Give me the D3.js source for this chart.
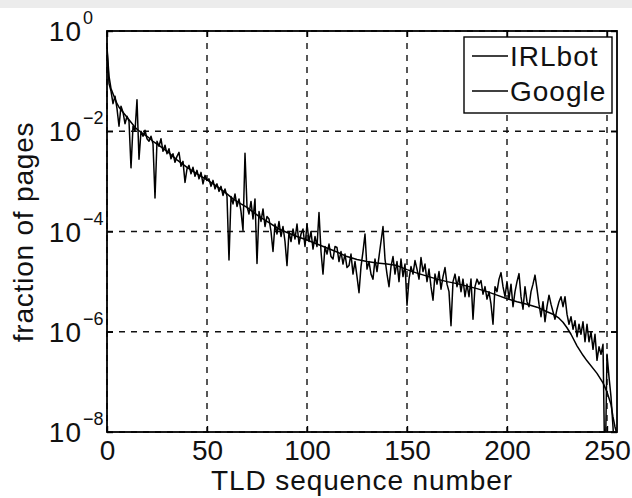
<!DOCTYPE html>
<html><head><meta charset="utf-8">
<script src="https://cdn.jsdelivr.net/npm/d3@7"></script>
<style>
html,body{margin:0;padding:0;background:#fff;}
svg{display:block;font-family:"Liberation Sans",Arial,Helvetica,sans-serif;}
</style></head>
<body><svg id="c" width="632" height="498"></svg>
<script>
// ---- data (log10 of fraction of pages) ----
const xTicks = [0, 50, 100, 150, 200, 250];
const yTickExps = [0, -2, -4, -6, -8];
const seriesNames = ["IRLbot", "Google"];

const irlbotRank = [0,1,2,3,4,5,6,8,10,12,14,15,17,20,23,26,30,35,40,45,50,55,60,63,67,70,76,80,86,90,95,100,105,110,115,120,125,130,135,140,145,150,155,160,165,170,175,180,185,190,195,200,205,210,215,220,223,226,228,230,232,235,238,240,245,248,250,252,253,254,255];
const irlbotExp = [-0.32,-0.9,-1.15,-1.25,-1.35,-1.45,-1.52,-1.62,-1.72,-1.82,-1.92,-1.96,-2.02,-2.10,-2.20,-2.28,-2.40,-2.57,-2.72,-2.85,-2.97,-3.10,-3.25,-3.35,-3.45,-3.52,-3.70,-3.80,-3.95,-4.02,-4.10,-4.17,-4.25,-4.33,-4.41,-4.50,-4.56,-4.60,-4.63,-4.65,-4.68,-4.76,-4.83,-4.89,-4.95,-5.00,-5.04,-5.09,-5.14,-5.20,-5.27,-5.34,-5.40,-5.45,-5.51,-5.60,-5.65,-5.73,-5.81,-5.92,-6.05,-6.28,-6.47,-6.58,-6.83,-7.02,-7.20,-7.45,-7.70,-7.90,-8.05];

const googleExp = [
-0.35,-1.05,-1.2,-1.45,-1.3,-1.55,-1.9,-1.5,-1.62,-1.85,-1.7,
-1.8,-2.73,-1.9,-2.0,-1.37,-2.56,-2.0,-2.1,-1.98,-2.15,
-2.2,-2.1,-2.25,-3.33,-2.2,-2.3,-2.15,-2.4,-2.28,-2.45,
-2.35,-2.55,-2.45,-2.62,-2.5,-2.42,-2.7,-2.6,-3.02,-2.75,
-2.68,-2.85,-2.72,-2.9,-2.78,-2.95,-2.82,-3.05,-2.88,-2.98,
-2.95,-3.1,-2.98,-3.15,-3.05,-3.2,-3.1,-3.28,-3.15,-3.3,
-4.57,-3.3,-3.45,-3.25,-3.5,-3.35,-3.6,-3.98,-2.44,-3.5,
-3.65,-3.4,-3.75,-3.35,-4.64,-3.6,-3.8,-3.55,-3.9,-3.7,
-3.75,-4.0,-4.4,-3.85,-4.05,-3.8,-4.1,-3.9,-4.2,-4.68,
-4.0,-4.2,-3.95,-4.15,-3.85,-4.25,-4.05,-3.95,-4.3,-3.85,
-4.2,-4.0,-4.35,-4.1,-4.3,-3.62,-4.4,-4.85,-4.3,-4.45,
-4.25,-4.5,-4.55,-4.3,-4.32,-4.6,-4.4,-4.65,-4.45,-4.72,
-4.68,-4.45,-4.85,-4.6,-4.9,-5.22,-4.7,-4.4,-4.05,-4.75,
-4.6,-4.85,-4.95,-4.55,-4.8,-4.5,-4.2,-3.9,-4.55,-4.85,
-5.1,-4.7,-4.5,-4.85,-4.6,-5.0,-4.55,-4.9,-4.65,-5.47,
-4.95,-4.7,-4.85,-4.58,-4.75,-4.95,-4.52,-4.8,-4.65,-5.0,
-4.75,-5.1,-5.37,-4.85,-5.05,-4.8,-5.15,-4.9,-4.72,-5.05,
-5.2,-5.88,-5.0,-4.85,-5.1,-4.9,-5.2,-4.95,-5.3,-5.05,
-5.3,-4.95,-5.75,-5.1,-4.95,-5.05,-4.98,-5.25,-5.1,-5.35,
-5.2,-5.45,-5.85,-5.1,-5.2,-4.95,-4.82,-5.1,-5.3,-5.0,
-5.35,-5.05,-5.5,-5.2,-5.0,-4.84,-5.3,-5.55,-5.1,-5.4,
-5.5,-5.2,-5.05,-4.87,-5.15,-5.45,-5.7,-5.4,-5.8,-5.5,
-5.27,-5.45,-5.6,-5.75,-5.55,-5.4,-5.3,-5.5,-5.3,-5.65,
-5.85,-5.7,-5.95,-5.78,-6.1,-5.85,-6.05,-5.8,-6.2,-5.85,
-6.2,-6.0,-6.35,-6.05,-6.57,-6.3,-6.45,-6.25,-9,-6.45,-6.9,-7.3,-7.9,-8.6
];
const googleRank = googleExp.map((_, i) => i);

// ---- layout ----
const L = 107, R = 617, T = 31, B = 432;
const svg = d3.select("#c");
const x = d3.scaleLinear().domain([0, 255]).range([L, R]);
const y = d3.scaleLog().domain([1e-8, 1]).range([B, T]);

svg.append("rect").attr("x",0).attr("y",0).attr("width",632).attr("height",8).attr("fill","#ececec");

svg.append("defs").append("clipPath").attr("id","clip")
  .append("rect").attr("x",L).attr("y",T).attr("width",R-L).attr("height",B-T);

// grid
const grid = svg.append("g").attr("class","grid");
grid.selectAll("line.v").data(xTicks).join("line").attr("class","v")
  .attr("x1",d=>x(d)).attr("x2",d=>x(d)).attr("y1",T).attr("y2",B);
grid.selectAll("line.h").data(yTickExps).join("line").attr("class","h")
  .attr("x1",L).attr("x2",R).attr("y1",d=>y(10**d)).attr("y2",d=>y(10**d));
grid.selectAll("line").attr("stroke","#111").attr("stroke-width",1.4).attr("stroke-dasharray","6,6");

// series
const line = d3.line().x(d=>x(d[0])).y(d=>y(d[1]));
const irl = irlbotRank.map((r,i)=>[r, 10**irlbotExp[i]]);
const goo = googleRank.map((r,i)=>[r, 10**googleExp[i]]);
const plot = svg.append("g").attr("clip-path","url(#clip)");
[irl, goo].forEach(s=>{
  plot.append("path").datum(s).attr("d",line).attr("fill","none")
    .attr("stroke","#000").attr("stroke-width",1.5).attr("stroke-linejoin","round");
});

// axes (ticks inward)
const xAxis = d3.axisBottom(x).tickValues(xTicks).tickSizeInner(-6).tickSizeOuter(0).tickPadding(8);
const gx = svg.append("g").attr("transform",`translate(0,${B})`).call(xAxis);
gx.select(".domain").remove();
gx.selectAll("text").attr("font-size",28).attr("fill","#111").attr("font-family","Liberation Sans, Arial, sans-serif");
const gxt = svg.append("g").attr("transform",`translate(0,${T})`).call(d3.axisTop(x).tickValues(xTicks).tickSizeInner(-6).tickSizeOuter(0).tickFormat(""));
gxt.select(".domain").remove();

const yTickVals = yTickExps.map(e=>10**e);
const gy = svg.append("g").attr("transform",`translate(${L},0)`).call(d3.axisLeft(y).tickValues(yTickVals).tickSizeInner(-6).tickSizeOuter(0).tickFormat(""));
gy.select(".domain").remove();
const gyr = svg.append("g").attr("transform",`translate(${R},0)`).call(d3.axisRight(y).tickValues(yTickVals).tickSizeInner(-6).tickSizeOuter(0).tickFormat(""));
gyr.select(".domain").remove();
svg.selectAll(".tick line").attr("stroke","#000").attr("stroke-width",1.4);

// y tick labels 10^e
const yl = svg.append("g").attr("fill","#111");
yTickExps.forEach(e=>{
  const yy = y(10**e);
  yl.append("text").attr("x",82).attr("y",yy+10).attr("text-anchor","end").attr("font-size",28).attr("letter-spacing",1).text("10");
  yl.append("text").attr("x",83).attr("y",yy-7).attr("font-size",18).text(e===0 ? "0" : "\u2212" + Math.abs(e));
});

// frame
svg.append("rect").attr("x",L).attr("y",T).attr("width",R-L).attr("height",B-T)
  .attr("fill","none").attr("stroke","#000").attr("stroke-width",1.8);

// axis labels
svg.append("text").attr("x",(L+R)/2).attr("y",490).attr("text-anchor","middle")
  .attr("font-size",28).attr("letter-spacing",0.9).attr("fill","#111").text("TLD sequence number");
svg.append("text").attr("transform","translate(33,232) rotate(-90)").attr("text-anchor","middle")
  .attr("font-size",28).attr("letter-spacing",0.8).attr("fill","#111").text("fraction of pages");

// legend
const lg = svg.append("g");
lg.append("rect").attr("x",464).attr("y",37).attr("width",148).attr("height",76)
  .attr("fill","#fff").attr("stroke","#000").attr("stroke-width",1.4);
seriesNames.forEach((n,i)=>{
  const yy = 56 + i*35;
  lg.append("line").attr("x1",472).attr("x2",508).attr("y1",yy).attr("y2",yy).attr("stroke","#000").attr("stroke-width",1.4);
  lg.append("text").attr("x",510).attr("y",yy+10).attr("font-size",28).attr("letter-spacing",1).attr("fill","#111").text(n);
});
</script></body></html>
